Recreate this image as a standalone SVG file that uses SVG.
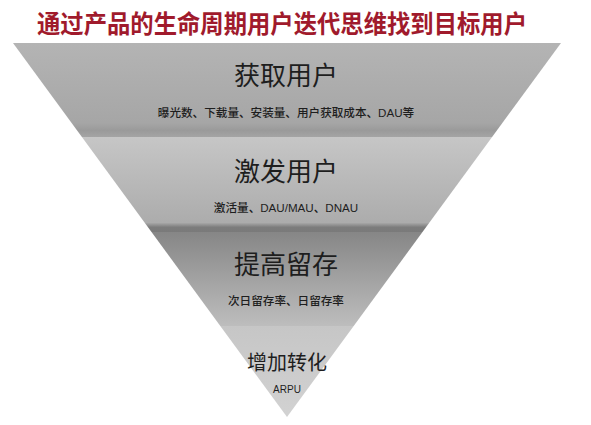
<svg xmlns="http://www.w3.org/2000/svg" width="591" height="425" viewBox="0 0 591 425">
  <defs>
    <linearGradient id="g1" x1="0" y1="0" x2="0" y2="1">
      <stop offset="0" stop-color="#b4b4b4"/>
      <stop offset="0.85" stop-color="#a6a6a6"/>
      <stop offset="0.93" stop-color="#9a9a9a"/>
      <stop offset="1" stop-color="#a4a4a4"/>
    </linearGradient>
    <linearGradient id="g2" x1="0" y1="0" x2="0" y2="1">
      <stop offset="0" stop-color="#c6c6c6"/>
      <stop offset="0.9" stop-color="#acacac"/>
      <stop offset="0.95" stop-color="#7c7c7c"/>
      <stop offset="1" stop-color="#7a7a7a"/>
    </linearGradient>
    <linearGradient id="g3" x1="0" y1="0" x2="0" y2="1">
      <stop offset="0" stop-color="#868686"/>
      <stop offset="0.5" stop-color="#a2a2a2"/>
      <stop offset="1" stop-color="#bdbdbd"/>
    </linearGradient>
    <linearGradient id="g4" x1="0" y1="0" x2="0" y2="1">
      <stop offset="0" stop-color="#c6c6c6"/>
      <stop offset="1" stop-color="#d2d2d2"/>
    </linearGradient>
  </defs>
  <style>
    .title { font-family: "Liberation Sans", "Noto Sans CJK SC", sans-serif; font-size: 25px; font-weight: bold; fill: #a01a2c; }
    .head { font-family: "Liberation Sans", "Noto Sans CJK SC", sans-serif; font-size: 26px; fill: #1e1e1e; text-anchor: middle; }
    .sub { font-family: "Liberation Sans", "Noto Sans CJK SC", sans-serif; font-size: 11.6px; fill: #1e1e1e; text-anchor: middle; font-weight: 500; }
  </style>
  <rect width="591" height="425" fill="#ffffff"/>
  <text class="title" x="37" y="33" textLength="490" lengthAdjust="spacingAndGlyphs">通过产品的生命周期用户迭代思维找到目标用户</text>
  <g id="band-acquire">
    <polygon points="13,43 561,43 492.1,137 81.9,137" fill="url(#g1)"/>
    <text class="head" x="286" y="85">获取用户</text>
    <text class="sub" x="286" y="117">曝光数、下载量、安装量、用户获取成本、DAU等</text>
  </g>
  <g id="band-activate">
    <polygon points="81.9,137 492.1,137 422.5,232 151.5,232" fill="url(#g2)"/>
    <text class="head" x="286" y="181">激发用户</text>
    <text class="sub" x="286" y="212">激活量、DAU/MAU、DNAU</text>
  </g>
  <g id="band-retain">
    <polygon points="151.5,232 422.5,232 353.7,326 220.3,326" fill="url(#g3)"/>
    <text class="head" x="286" y="274">提高留存</text>
    <text class="sub" x="286" y="305">次日留存率、日留存率</text>
  </g>
  <g id="band-convert">
    <polygon points="220.3,326 353.7,326 287,417" fill="url(#g4)"/>
    <text class="head" x="287" y="370" style="font-size:20px">增加转化</text>
    <text class="sub" x="287" y="393" style="font-size:10px">ARPU</text>
  </g>
</svg>
